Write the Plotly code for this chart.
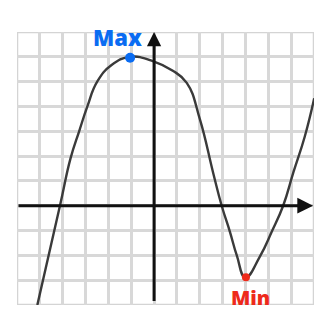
import plotly.graph_objects as go

# Curve points (data units: one grid cell = 1)
curve_x = [-5.11, -4.12, -3.66, -3.28, -2.92, -2.49, -1.86, -1.05, -0.03, 0.8, 1.43, 2.0, 2.59, 2.96, 3.32, 3.62, 4.0, 4.63, 5.15, 5.65, 6.1, 6.6, 7.01]
curve_y = [-4.0, 0.0, 1.9, 3.0, 4.0, 5.0, 5.67, 6.0, 5.82, 5.45, 4.95, 3.5, 1.31, 0.0, -1.05, -2.0, -2.9, -2.05, -1.05, 0.0, 1.35, 2.8, 4.33]

max_point = (-1.05, 5.96)
min_point = (4.02, -2.88)
max_label = "Max"
min_label = "Min"

x_range = [-6, 7]
y_range = [-4, 7]

blue = "#0a6cf2"
red = "#ee2a1a"

fig = go.Figure()
fig.add_trace(go.Scatter(
    x=curve_x, y=curve_y, mode="lines",
    line=dict(color="#3a3a3a", width=2.4, shape="spline", smoothing=1.3),
    hoverinfo="skip"))
fig.add_trace(go.Scatter(
    x=[max_point[0]], y=[max_point[1]], mode="markers",
    marker=dict(color=blue, size=10), cliponaxis=False, hoverinfo="skip"))
fig.add_trace(go.Scatter(
    x=[min_point[0]], y=[min_point[1]], mode="markers",
    marker=dict(color=red, size=8), cliponaxis=False, hoverinfo="skip"))

# axes with arrows
fig.add_annotation(x=x_range[1] - 0.04, y=0, ax=x_range[0], ay=0,
                   xref="x", yref="y", axref="x", ayref="y",
                   text="", showarrow=True, arrowhead=2, arrowsize=1.05,
                   arrowwidth=3, arrowcolor="#111111")
fig.add_annotation(x=0, y=y_range[1], ax=0, ay=y_range[0] + 0.1,
                   xref="x", yref="y", axref="x", ayref="y",
                   text="", showarrow=True, arrowhead=2, arrowsize=0.95,
                   arrowwidth=3, arrowcolor="#111111")

fig.add_annotation(x=-1.58, y=6.8, text=max_label, showarrow=False,
                   font=dict(family="Open Sans", size=22, color=blue, weight=800))
fig.add_annotation(x=4.24, y=-3.68, text=min_label, showarrow=False,
                   font=dict(family="Open Sans", size=20, color=red, weight=800))

# border
fig.add_shape(type="rect", x0=x_range[0], x1=x_range[1], y0=y_range[0], y1=y_range[1],
              xref="x", yref="y", line=dict(color="#d4d4d4", width=2.5), layer="below")

fig.update_xaxes(range=x_range, dtick=1, showgrid=True, gridcolor="#d8d8d8", gridwidth=2.5,
                 zeroline=False, showticklabels=False, ticks="", showline=False, fixedrange=True)
fig.update_yaxes(range=y_range, dtick=1, showgrid=True, gridcolor="#d8d8d8", gridwidth=2.5,
                 zeroline=False, showticklabels=False, ticks="", showline=False, fixedrange=True)

fig.update_layout(
    width=320, height=312,
    margin=dict(l=17, r=6, t=32, b=7),
    paper_bgcolor="white", plot_bgcolor="white",
    showlegend=False,
)

fig.write_html("out.html", config={"displayModeBar": False},
               post_script="document.body.style.margin='0';")
